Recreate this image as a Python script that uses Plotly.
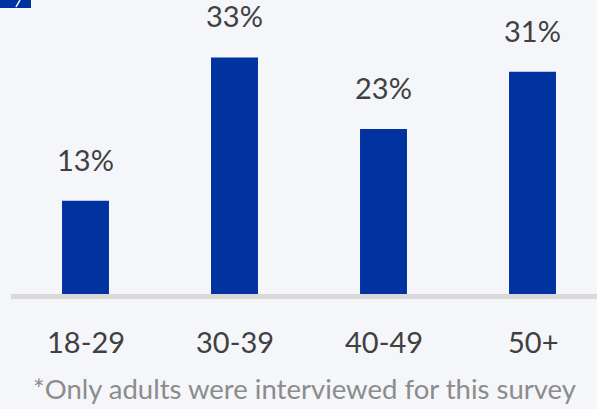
import plotly.graph_objects as go

categories = ["18-29", "30-39", "40-49", "50+"]
values = [13, 33, 23, 31]
value_labels = ["13%", "33%", "23%", "31%"]
footnote = "*Only adults were interviewed for this survey"

W, H = 597, 409
BG = "#f5f6fa"
BAR = "#0032a0"
TXT = "#404040"

fig = go.Figure()
fig.add_trace(go.Bar(x=list(range(len(categories))), y=values, width=0.315,
                     marker=dict(color=BAR, line=dict(width=0)), hoverinfo="skip"))

# value labels
for i, (v, t) in enumerate(zip(values, value_labels)):
    fig.add_annotation(x=i, y=v, xref="x", yref="y", text=t, showarrow=False,
                       yanchor="bottom", yshift=22,
                       font=dict(family="Lato", size=29, color=TXT))
# category labels
for i, c in enumerate(categories):
    fig.add_annotation(x=i, y=1 - 341 / H, xref="x", yref="paper", text=c, showarrow=False,
                       yanchor="middle", font=dict(family="Lato", size=29, color=TXT))

fig.add_annotation(x=304 / W, y=1 - 388 / H, xref="paper", yref="paper", text=footnote,
                   showarrow=False, xanchor="center", yanchor="middle",
                   font=dict(family="Lato", size=27.5, color="#8c8c8c"))

# baseline
fig.add_shape(type="line", xref="x", yref="y", x0=-0.5, x1=3.6, y0=-0.35, y1=-0.35,
              line=dict(color="#d9d9d9", width=5), layer="below")
# cropped title badge in top-left corner
fig.add_shape(type="rect", xref="paper", yref="paper", x0=0, x1=31 / W, y0=1 - 8 / H, y1=1.0,
              fillcolor=BAR, line=dict(width=0))
fig.add_shape(type="line", xref="paper", yref="paper", x0=16 / W, x1=20 / W,
              y0=1 - 7 / H, y1=1.0, line=dict(color="white", width=1.5))

px_per = 7.17
xl = -85.5 / 149
xr = 3 + (W - 532.5) / 149
fig.update_layout(
    width=W, height=H, margin=dict(l=0, r=0, t=0, b=0),
    paper_bgcolor=BG, plot_bgcolor=BG, showlegend=False,
    xaxis=dict(range=[xl, xr], visible=False, fixedrange=True),
    yaxis=dict(range=[-(H - 294) / px_per, 294 / px_per], visible=False, fixedrange=True),
)
fig.write_html("out.html", config={"displayModeBar": False},
               post_script="document.body.style.margin='0';document.body.style.overflow='hidden';")
